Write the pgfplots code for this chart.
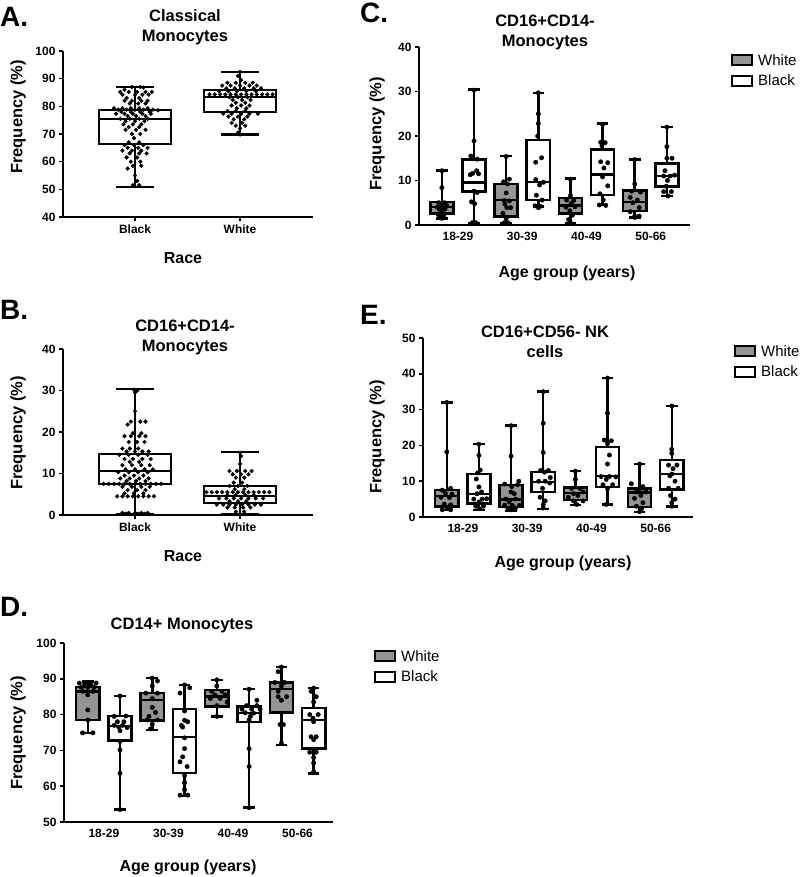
\documentclass[border=0pt]{standalone}
\usepackage{fontspec}
\setmainfont{Liberation Sans}
\usepackage{pgfplots}
\pgfplotsset{compat=1.18}
\usepgfplotslibrary{statistics}
\definecolor{boxgray}{RGB}{148,148,148}
\pgfplotsset{
  gp/.style={
    scale only axis,
    axis lines=left,
    axis line style={-, line width=2.2pt},
    tick align=outside,
    major tick length=4pt,
    ytick style={line width=1.6pt, black},
    xtick style={line width=1.6pt, black},
    tick label style={font=\fontsize{12}{12}\selectfont\bfseries},
    /pgf/number format/assume math mode=true,
    clip=false,
    legend image code/.code={\draw[line width=2pt,#1] (0pt,-5pt) rectangle (20pt,5pt);},
    legend style={draw=none, fill=none, font=\fontsize{15}{15}\selectfont,
      at={(1,1)}, anchor=north west, xshift=38pt, yshift=-3pt,
      row sep=4pt, legend cell align=left,
      /tikz/every odd column/.style={column sep=3pt}},
  },
  gbx/.style={draw=black, fill=boxgray, line width=2.5pt, forget plot},
  wbx/.style={draw=black, fill=white, line width=2.5pt, forget plot},
  dots/.style={only marks, mark=*, mark size=2.2pt, black, forget plot},
  agegroups/.style={xtick={0,1,2,3}, xticklabels={18-29,30-39,40-49,50-66}, xtick style={draw=none}},
}
\newcommand{\bx}[7]{\addplot[#1, boxplot prepared={draw direction=y, draw position=#2, lower whisker=#3, lower quartile=#4, median=#5, upper quartile=#6, upper whisker=#7, box extend=0.36, whisker extend=0.18}] coordinates {};}
\newcommand{\bxA}[7]{\addplot[#1, boxplot prepared={draw direction=y, draw position=#2, lower whisker=#3, lower quartile=#4, median=#5, upper quartile=#6, upper whisker=#7, box extend=0.686, whisker extend=0.36}] coordinates {};}
\begin{document}
\begin{tikzpicture}
\useasboundingbox (0pt,0pt) rectangle (800pt,877pt);

% ---------------- Panel A ----------------
\begin{axis}[gp, at={(63pt,660pt)}, width=250pt, height=166pt,
  xmin=0.314, xmax=2.695, ymin=40, ymax=100, ytick={40,50,...,100},
  xtick={1,2}, xticklabels={Black,White}]
\bxA{wbx, line width=2.1pt}{1}{51}{66.5}{75.3}{78.8}{87.0}
\bxA{wbx, line width=2.1pt}{2}{69.8}{78.0}{83.5}{85.8}{92.5}
\addplot[dots, mark size=1.9pt] coordinates {(0.97,87.0)(1.05,87.0)(1.08,86.8)(0.90,86.0)(0.86,85.2)(0.94,85.2)(1.02,85.2)(1.10,85.2)(1.16,85.2)(0.88,84.2)(1.00,84.2)(1.07,84.2)(1.13,84.2)(0.92,83.0)(1.04,83.0)(0.90,82.0)(0.97,82.0)(1.06,82.0)(1.12,82.0)(0.95,81.0)(1.03,81.0)(1.10,81.0)(0.80,79.3)(0.88,79.3)(0.96,79.3)(1.04,79.3)(1.12,79.3)(0.84,78.8)(0.92,78.8)(1.00,78.8)(1.08,78.8)(1.17,78.8)(1.22,78.6)(0.87,78.0)(0.96,78.0)(1.05,78.0)(1.14,78.0)(0.82,77.3)(0.90,77.3)(0.98,77.3)(1.07,77.3)(1.15,77.3)(0.93,76.5)(1.01,76.5)(1.10,76.5)(0.86,75.5)(0.95,75.5)(1.04,75.5)(1.12,75.5)(0.91,74.6)(1.00,74.6)(1.09,74.6)(0.89,73.5)(0.98,73.5)(1.06,73.5)(0.94,72.5)(1.04,72.5)(0.91,71.5)(1.01,71.5)(1.10,71.5)(0.97,70.0)(1.05,70.0)(0.99,68.5)(0.94,67.0)(1.04,67.0)(0.90,66.0)(0.99,66.0)(1.08,66.0)(0.93,65.0)(1.03,65.0)(1.12,65.0)(0.88,64.0)(0.97,64.0)(1.06,64.0)(0.95,63.0)(1.04,63.0)(1.11,63.0)(0.92,61.5)(1.02,61.5)(0.96,60.0)(1.05,60.0)(0.98,58.5)(1.06,58.5)(0.93,57.5)(1.00,55.0)(1.02,53.0)(0.98,51.5)(1.04,51.5)};
\addplot[dots, mark size=1.9pt] coordinates {(2.00,92.5)(1.98,91.0)(2.01,89.5)(1.88,88.5)(1.96,88.5)(2.05,88.5)(2.12,88.5)(1.83,87.5)(1.91,87.5)(2.00,87.5)(2.09,87.5)(2.16,87.5)(1.87,86.5)(1.95,86.5)(2.04,86.5)(2.13,86.5)(2.20,86.5)(1.80,85.5)(1.89,85.5)(1.97,85.5)(2.06,85.5)(2.15,85.5)(1.71,84.3)(1.76,84.3)(1.81,84.3)(1.86,84.3)(1.91,84.3)(1.96,84.3)(2.01,84.3)(2.06,84.3)(2.11,84.3)(2.16,84.3)(2.21,84.3)(2.26,84.3)(2.31,84.3)(1.90,83.3)(1.98,83.3)(2.07,83.3)(1.93,82.3)(2.02,82.3)(2.10,82.3)(1.96,81.3)(2.05,81.3)(1.92,80.3)(2.01,80.3)(2.09,80.3)(1.97,79.3)(2.06,79.3)(1.88,78.3)(1.96,78.3)(2.05,78.3)(1.84,77.3)(1.92,77.3)(2.01,77.3)(2.09,77.3)(2.17,77.3)(1.89,76.3)(1.98,76.3)(2.07,76.3)(1.94,75.3)(2.04,75.3)(1.92,74.0)(2.02,74.0)(1.96,73.0)(2.05,73.0)(2.00,72.0)(1.98,70.5)(2.00,69.8)};
\end{axis}

% ---------------- Panel B ----------------
\begin{axis}[gp, at={(63pt,362pt)}, width=250pt, height=166pt,
  xmin=0.314, xmax=2.695, ymin=0, ymax=40, ytick={0,10,...,40},
  xtick={1,2}, xticklabels={Black,White}]
\bxA{wbx, line width=2.1pt}{1}{0.3}{7.5}{10.5}{14.8}{30.3}
\bxA{wbx, line width=2.1pt}{2}{0.3}{2.8}{4.5}{7.0}{15.2}
\addplot[dots, mark size=1.9pt] coordinates {(0.99,30.2)(1.02,30.0)(1.00,29.5)(1.00,25.0)(0.96,22.5)(1.05,22.5)(1.10,22.5)(0.93,21.8)(0.98,19.7)(1.06,19.7)(0.90,19.0)(0.96,19.0)(1.04,19.0)(1.10,19.0)(0.94,17.6)(1.02,17.6)(1.09,17.6)(0.88,16.0)(0.95,16.0)(1.03,16.0)(0.92,15.3)(1.00,15.3)(1.07,15.3)(1.13,15.3)(0.85,14.5)(0.94,14.5)(1.03,14.5)(1.12,14.5)(0.90,13.5)(0.98,13.5)(1.07,13.5)(1.15,13.5)(0.95,12.8)(1.04,12.8)(0.88,12.0)(0.97,12.0)(1.06,12.0)(1.14,12.0)(0.91,11.0)(1.00,11.0)(1.09,11.0)(1.17,11.0)(0.84,10.3)(0.94,10.3)(1.03,10.3)(1.12,10.3)(0.90,9.5)(0.99,9.5)(1.08,9.5)(0.86,8.8)(0.95,8.8)(1.04,8.8)(1.13,8.8)(0.92,8.2)(1.01,8.2)(1.10,8.2)(0.70,7.5)(0.75,7.5)(0.80,7.5)(0.85,7.5)(0.90,7.5)(0.95,7.5)(1.00,7.5)(1.05,7.5)(1.10,7.5)(1.15,7.5)(1.20,7.5)(1.25,7.5)(0.88,6.8)(0.97,6.8)(1.06,6.8)(1.14,6.8)(0.93,6.0)(1.02,6.0)(1.10,6.0)(0.90,5.2)(0.99,5.2)(1.08,5.2)(0.83,4.5)(0.88,4.5)(0.93,4.5)(0.98,4.5)(1.03,4.5)(1.08,4.5)(1.13,4.5)(1.18,4.5)(0.88,0.5)(0.94,0.5)(1.00,0.5)(1.06,0.5)(1.12,0.5)(0.91,0.3)(1.03,0.3)(1.09,0.3)};
\addplot[dots, mark size=1.9pt] coordinates {(2.00,15.0)(2.01,14.2)(2.00,12.3)(1.90,10.6)(1.97,10.6)(2.05,10.6)(2.11,10.6)(1.93,9.8)(2.01,9.8)(2.08,9.8)(1.96,9.0)(2.04,9.0)(1.94,7.8)(2.02,7.8)(1.90,7.0)(1.98,7.0)(2.07,7.0)(1.95,6.2)(2.04,6.2)(1.68,5.5)(1.73,5.5)(1.78,5.5)(1.83,5.5)(1.88,5.5)(1.93,5.5)(1.98,5.5)(2.03,5.5)(2.08,5.5)(2.13,5.5)(2.18,5.5)(2.23,5.5)(2.28,5.5)(1.88,4.8)(1.96,4.8)(2.05,4.8)(2.13,4.8)(1.80,4.0)(1.87,4.0)(1.94,4.0)(2.01,4.0)(2.08,4.0)(2.15,4.0)(2.22,4.0)(1.90,3.3)(1.98,3.3)(2.06,3.3)(1.78,2.5)(1.84,2.5)(1.90,2.5)(1.96,2.5)(2.02,2.5)(2.08,2.5)(2.14,2.5)(2.20,2.5)(1.88,1.8)(1.95,1.8)(2.03,1.8)(2.10,1.8)(1.96,0.8)(2.04,0.8)(2.00,0.3)};
\end{axis}

% ---------------- Panel C ----------------
\begin{axis}[gp, agegroups, at={(419pt,652pt)}, width=271pt, height=178pt,
  axis line style={line width=2.6pt},
  xmin=-0.606, xmax=3.61, ymin=0, ymax=40, ytick={0,10,...,40}]
\bx{gbx}{-0.25}{1.5}{2.6}{4.0}{5.2}{12.3}
\bx{wbx}{0.25}{0.5}{7.5}{9.5}{14.7}{30.4}
\bx{gbx}{0.75}{0.5}{1.9}{5.6}{9.2}{15.5}
\bx{wbx}{1.25}{4.1}{5.6}{9.7}{19.1}{29.7}
\bx{gbx}{1.75}{0.5}{2.6}{4.4}{6.1}{10.5}
\bx{wbx}{2.25}{4.5}{6.7}{11.4}{17.0}{22.8}
\bx{gbx}{2.75}{1.7}{3.1}{5.2}{7.8}{14.7}
\bx{wbx}{3.25}{6.5}{8.6}{11.0}{13.8}{22.0}
\addplot[dots] coordinates {(-0.25,12.2)(-0.25,8.4)(-0.30,5.0)(-0.21,5.0)(-0.26,4.6)(-0.18,4.5)(-0.32,4.0)(-0.24,3.9)(-0.29,3.5)(-0.20,3.6)(-0.26,3.0)(-0.31,2.4)(-0.21,2.5)(-0.28,1.8)(-0.22,1.7)(-0.25,1.5)
(0.75,15.4)(0.80,10.3)(0.71,9.7)(0.77,9.2)(0.75,7.2)(0.72,5.5)(0.80,5.4)(0.73,4.7)(0.76,3.9)(0.82,3.9)(0.70,2.6)(0.75,1.5)(0.72,0.5)(0.78,0.5)
(1.75,10.3)(1.75,6.6)(1.69,5.6)(1.80,5.5)(1.76,4.8)(1.68,4.0)(1.82,4.1)(1.74,3.2)(1.78,2.2)(1.72,1.2)(1.75,0.5)
(2.75,14.7)(2.75,9.2)(2.70,7.6)(2.84,7.4)(2.68,6.2)(2.79,5.6)(2.72,5.0)(2.82,3.9)(2.68,3.0)(2.75,2.0)(2.82,2.0)(2.75,1.7)};
\addplot[dots] coordinates {(0.25,30.3)(0.25,18.9)(0.20,15.5)(0.30,14.8)(0.29,12.2)(0.23,11.6)(0.19,11.3)(0.32,11.5)(0.25,7.6)(0.30,7.3)(0.21,5.2)(0.26,4.8)(0.22,0.5)(0.28,0.5)
(1.25,29.7)(1.25,25.0)(1.25,22.8)(1.24,20.0)(1.30,15.1)(1.21,14.1)(1.21,10.2)(1.33,9.6)(1.27,9.0)(1.22,6.7)(1.31,5.6)(1.20,4.3)(1.28,4.2)(1.25,3.9)
(2.25,22.6)(2.22,18.6)(2.29,18.5)(2.24,17.8)(2.22,14.2)(2.33,14.0)(2.27,12.8)(2.25,10.8)(2.33,8.8)(2.21,7.0)(2.26,5.6)(2.20,4.5)(2.30,4.4)
(3.25,22.0)(3.25,17.6)(3.25,15.0)(3.33,15.0)(3.22,12.2)(3.20,11.0)(3.30,11.0)(3.37,11.2)(3.26,10.0)(3.24,8.7)(3.20,7.5)(3.32,7.5)(3.27,6.5)};
\addlegendimage{draw=black, fill=boxgray}\addlegendentry{White}
\addlegendimage{draw=black, fill=white}\addlegendentry{Black}
\end{axis}

% ---------------- Panel E ----------------
\begin{axis}[gp, agegroups, at={(423pt,360pt)}, width=270pt, height=179pt,
  axis line style={line width=2.6pt},
  xmin=-0.62, xmax=3.58, ymin=0, ymax=50, ytick={0,10,...,50}]
\bx{gbx}{-0.25}{1.9}{3.0}{5.8}{7.5}{32.0}
\bx{wbx}{0.25}{1.9}{3.7}{6.4}{12.0}{20.4}
\bx{gbx}{0.75}{1.7}{2.8}{4.9}{8.9}{25.5}
\bx{wbx}{1.25}{2.3}{7.0}{9.8}{12.6}{35.0}
\bx{gbx}{1.75}{3.3}{4.7}{6.7}{8.2}{12.8}
\bx{wbx}{2.25}{3.5}{8.4}{11.4}{19.6}{38.8}
\bx{gbx}{2.75}{1.4}{2.8}{6.9}{7.9}{14.8}
\bx{wbx}{3.25}{3.0}{7.7}{12.0}{15.9}{31.0}
\addplot[dots] coordinates {(-0.25,32.0)(-0.25,18.2)(-0.19,8.0)(-0.32,7.5)(-0.27,6.6)(-0.17,6.4)(-0.34,5.5)(-0.21,5.4)(-0.29,3.6)(-0.19,3.4)(-0.24,2.5)(-0.32,2.0)(-0.19,2.0)
(0.75,25.5)(0.75,17.0)(0.87,10.0)(0.65,9.2)(0.85,9.0)(0.76,8.5)(0.75,7.0)(0.80,6.5)(0.67,5.0)(0.82,5.0)(0.72,4.2)(0.65,3.3)(0.77,3.3)(0.88,3.3)(0.70,2.5)(0.82,2.5)(0.76,2.0)
(1.75,12.8)(1.75,10.5)(1.69,8.0)(1.82,8.0)(1.87,7.0)(1.72,6.5)(1.79,6.0)(1.64,5.5)(1.72,4.5)(1.87,4.5)(1.77,3.5)
(2.75,14.8)(2.62,9.3)(2.80,8.5)(2.75,7.8)(2.70,7.0)(2.85,7.0)(2.77,6.0)(2.67,5.2)(2.80,4.0)(2.70,3.0)(2.78,2.3)(2.75,1.5)};
\addplot[dots] coordinates {(0.25,20.3)(0.25,17.2)(0.27,13.1)(0.23,12.3)(0.21,10.6)(0.25,8.4)(0.29,7.0)(0.22,6.5)(0.17,5.0)(0.30,5.0)(0.37,5.1)(0.25,4.2)(0.20,3.0)(0.32,3.0)(0.26,2.3)
(1.25,35.0)(1.25,26.2)(1.25,18.0)(1.21,13.0)(1.33,13.0)(1.27,12.5)(1.36,11.0)(1.18,10.0)(1.28,10.0)(1.35,9.5)(1.24,8.0)(1.20,5.5)(1.28,4.5)(1.25,3.5)(1.25,2.5)
(2.25,38.8)(2.25,29.0)(2.20,21.5)(2.31,21.3)(2.25,20.5)(2.28,17.3)(2.25,14.8)(2.15,11.3)(2.28,11.3)(2.38,11.2)(2.23,10.5)(2.18,9.0)(2.33,9.0)(2.25,8.0)(2.23,3.5)
(3.25,31.0)(3.25,18.9)(3.25,17.8)(3.20,14.5)(3.33,14.5)(3.27,13.5)(3.25,12.0)(3.22,11.5)(3.30,10.0)(3.20,8.0)(3.35,8.0)(3.23,6.0)(3.30,5.0)(3.25,4.0)(3.25,3.0)};
\addlegendimage{draw=black, fill=boxgray}\addlegendentry{White}
\addlegendimage{draw=black, fill=white}\addlegendentry{Black}
\end{axis}

% ---------------- Panel D ----------------
\begin{axis}[gp, agegroups, at={(64pt,55pt)}, width=269pt, height=179pt,
  axis line style={line width=2.6pt},
  xmin=-0.618, xmax=3.55, ymin=50, ymax=100, ytick={50,60,...,100}]
\bx{gbx}{-0.25}{74.8}{78.5}{86.4}{87.7}{89.3}
\bx{wbx}{0.25}{53.5}{72.7}{76.8}{79.6}{85.2}
\bx{gbx}{0.75}{75.7}{78.3}{84.1}{86.0}{90.2}
\bx{wbx}{1.25}{57.2}{63.7}{73.8}{81.6}{88.3}
\bx{gbx}{1.75}{79.4}{82.2}{85.0}{86.9}{89.7}
\bx{wbx}{2.25}{54.0}{78.0}{80.4}{82.2}{87.1}
\bx{gbx}{2.75}{71.5}{80.6}{87.1}{89.0}{93.3}
\bx{wbx}{3.25}{63.6}{70.6}{78.5}{81.8}{87.4}
\addplot[dots] coordinates {(-0.25,89.0)(-0.38,88.8)(-0.12,88.8)(-0.30,88.3)(-0.20,88.3)(-0.35,87.6)(-0.25,87.6)(-0.15,87.6)(-0.32,86.5)(-0.17,86.5)(-0.25,85.5)(-0.25,81.3)(-0.25,78.5)(-0.33,74.9)(-0.17,74.9)
(0.75,90.2)(0.83,89.4)(0.75,88.0)(0.65,86.0)(0.83,86.0)(0.75,84.5)(0.75,82.0)(0.80,80.6)(0.70,79.5)(0.67,78.5)(0.83,78.5)(0.75,77.3)(0.72,76.0)
(1.75,89.7)(1.75,88.0)(1.67,86.5)(1.83,86.5)(1.72,85.5)(1.88,85.5)(1.65,84.5)(1.80,84.5)(1.91,83.5)(1.75,82.5)(1.75,79.5)
(2.75,93.3)(2.70,92.0)(2.65,89.0)(2.80,89.0)(2.75,88.0)(2.70,86.5)(2.70,85.0)(2.83,85.0)(2.75,84.0)(2.73,77.2)(2.78,77.2)(2.75,72.0)};
\addplot[dots] coordinates {(0.25,85.2)(0.16,79.5)(0.34,79.6)(0.21,78.0)(0.31,78.0)(0.16,77.0)(0.29,77.0)(0.23,76.5)(0.36,76.4)(0.25,75.5)(0.25,72.5)(0.25,70.1)(0.25,63.6)(0.25,53.5)
(1.25,88.3)(1.33,87.5)(1.18,86.0)(1.25,81.0)(1.25,78.4)(1.30,78.0)(1.20,77.0)(1.22,76.5)(1.25,73.5)(1.25,70.5)(1.22,68.2)(1.18,66.8)(1.29,65.5)(1.25,63.0)(1.25,61.0)(1.25,59.0)(1.18,57.5)(1.30,57.5)
(2.25,87.1)(2.37,84.0)(2.21,82.5)(2.37,82.5)(2.14,81.5)(2.29,81.5)(2.42,81.5)(2.19,80.5)(2.32,80.4)(2.27,79.5)(2.25,78.5)(2.25,70.5)(2.25,65.5)(2.25,54.0)
(3.25,87.4)(3.21,86.5)(3.29,85.0)(3.25,83.5)(3.19,80.0)(3.32,80.0)(3.24,79.0)(3.25,78.0)(3.21,73.8)(3.29,73.8)(3.25,73.0)(3.19,69.5)(3.29,69.5)(3.25,68.0)(3.25,66.5)(3.25,64.0)};
\addlegendimage{draw=black, fill=boxgray}\addlegendentry{White}
\addlegendimage{draw=black, fill=white}\addlegendentry{Black}
\end{axis}

% ---------------- Texts ----------------
\tikzset{plab/.style={font=\fontsize{28}{28}\selectfont\bfseries, anchor=base west, inner sep=0pt},
  ttl/.style={font=\fontsize{16.5}{20}\selectfont\bfseries, align=center},
  ylab/.style={font=\fontsize{16.5}{16.5}\selectfont\bfseries, rotate=90},
  xlab/.style={font=\fontsize{16}{16}\selectfont\bfseries}}
\node[plab] at (0pt,850pt) {A.};
\node[plab] at (0pt,557pt) {B.};
\node[plab] at (360pt,854pt) {C.};
\node[plab] at (0pt,260pt) {D.};
\node[plab] at (360pt,552pt) {E.};
\node[ttl] at (185pt,850pt) {Classical\\Monocytes};
\node[ttl] at (185pt,540pt) {CD16+CD14-\\Monocytes};
\node[ttl] at (545pt,845pt) {CD16+CD14-\\Monocytes};
\node[ttl] at (545pt,535pt) {CD16+CD56- NK\\cells};
\node[ttl] at (182pt,252pt) {CD14+ Monocytes};
\node[ylab] at (18pt,760pt) {Frequency (\%)};
\node[ylab] at (18pt,444pt) {Frequency (\%)};
\node[ylab] at (377pt,743pt) {Frequency (\%)};
\node[ylab] at (377pt,440pt) {Frequency (\%)};
\node[ylab] at (18pt,144pt) {Frequency (\%)};
\node[xlab] at (183pt,619pt) {Race};
\node[xlab] at (183pt,321pt) {Race};
\node[xlab] at (567pt,604pt) {Age group (years)};
\node[xlab] at (563pt,314pt) {Age group (years)};
\node[xlab] at (188pt,10pt) {Age group (years)};
\end{tikzpicture}
\end{document}
